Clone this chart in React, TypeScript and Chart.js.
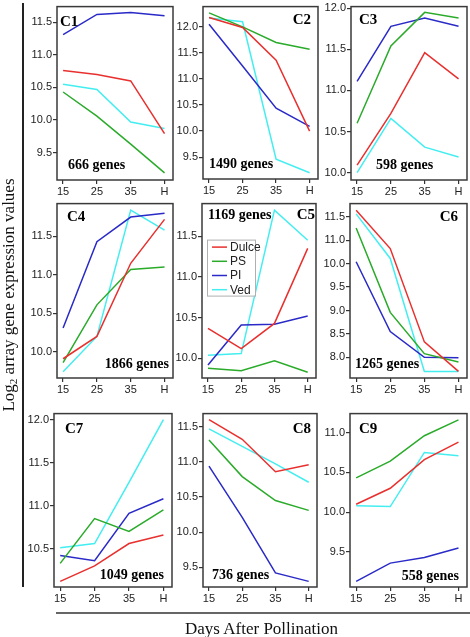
import React, { useEffect, useRef } from 'react';
import { Chart, registerables } from 'chart.js';
Chart.register(...registerables);

// ---------- data ----------
const days = ['15', '25', '35', 'H'];
const seriesNames = ['Dulce', 'PS', 'PI', 'Ved'];
const seriesColors = ['#e8302e', '#2aab2a', '#2a2ac8', '#44eef0'];
const clusterNames = ['C1', 'C2', 'C3', 'C4', 'C5', 'C6', 'C7', 'C8', 'C9'];
const geneCounts = ['666 genes', '1490 genes', '598 genes', '1866 genes', '1169 genes', '1265 genes', '1049 genes', '736 genes', '558 genes'];

// each cluster: [Dulce, PS, PI, Ved] over days 15, 25, 35, H
const c1 = [
  [10.76, 10.70, 10.60, 9.79],
  [10.43, 10.06, 9.63, 9.19],
  [11.31, 11.62, 11.65, 11.60],
  [10.55, 10.47, 9.97, 9.87],
];
const c2 = [
  [12.18, 11.99, 11.36, 10.0],
  [12.27, 12.0, 11.70, 11.57],
  [12.05, 11.25, 10.44, 10.09],
  [12.17, 12.10, 9.46, 9.20],
];
const c3 = [
  [10.09, 10.72, 11.46, 11.14],
  [10.60, 11.54, 11.95, 11.88],
  [11.11, 11.78, 11.88, 11.78],
  [10.0, 10.66, 10.31, 10.19],
];
const c4 = [
  [9.91, 10.20, 11.15, 11.72],
  [9.86, 10.61, 11.07, 11.10],
  [10.31, 11.43, 11.75, 11.80],
  [9.74, 10.20, 11.84, 11.58],
];
const c5 = [
  [10.37, 10.12, 10.43, 11.35],
  [9.88, 9.85, 9.97, 9.83],
  [9.92, 10.41, 10.42, 10.52],
  [10.04, 10.06, 11.82, 11.45],
];
const c6 = [
  [11.14, 10.32, 8.33, 7.70],
  [10.76, 8.96, 8.08, 7.90],
  [10.04, 8.55, 8.00, 7.99],
  [11.06, 10.11, 7.70, 7.70],
];
const c7 = [
  [10.12, 10.30, 10.56, 10.66],
  [10.33, 10.85, 10.70, 10.95],
  [10.42, 10.36, 10.91, 11.08],
  [10.51, 10.56, 11.27, 12.0],
];
const c8 = [
  [11.60, 11.32, 10.86, 10.96],
  [11.31, 10.79, 10.45, 10.31],
  [10.94, 10.21, 9.42, 9.30],
  [11.47, 11.22, 10.97, 10.71],
];
const c9 = [
  [10.10, 10.30, 10.66, 10.88],
  [10.43, 10.64, 10.96, 11.16],
  [9.13, 9.36, 9.43, 9.55],
  [10.08, 10.07, 10.75, 10.71],
];

const c1Ticks = [9.5, 10.0, 10.5, 11.0, 11.5];
const c2Ticks = [9.5, 10.0, 10.5, 11.0, 11.5, 12.0];
const c3Ticks = [10.0, 10.5, 11.0, 11.5, 12.0];
const c4Ticks = [10.0, 10.5, 11.0, 11.5];
const c5Ticks = [10.0, 10.5, 11.0, 11.5];
const c6Ticks = [8.0, 8.5, 9.0, 9.5, 10.0, 10.5, 11.0];
const c6TickLabels = ['8.0', '8.5', '9.0', '9.5', '10.0', '11.0', '11.5'];
const c7Ticks = [10.5, 11.0, 11.5, 12.0];
const c8Ticks = [9.5, 10.0, 10.5, 11.0, 11.5];
const c9Ticks = [9.5, 10.0, 10.5, 11.0];

// ---------- layout / style ----------
type Lab = { side: 'left' | 'right'; dx: number; top: boolean; dy: number };
type PanelCfg = {
  values: number[][];
  ticks: number[];
  tickLabels?: string[];
  yMin: number;
  yMax: number;
  box: [number, number, number, number];
  name: Lab;
  genes: Lab;
  legend?: { dx: number; dy: number; w: number; h: number };
};

const panels: PanelCfg[] = [
  { values: c1, ticks: c1Ticks, yMin: 9.08, yMax: 11.74, box: [57, 3, 173, 180],
    name: { side: 'left', dx: 3, top: true, dy: 19 }, genes: { side: 'left', dx: 11, top: false, dy: 11 } },
  { values: c2, ticks: c2Ticks, yMin: 9.08, yMax: 12.39, box: [203, 3, 318, 179],
    name: { side: 'right', dx: 7, top: true, dy: 17 }, genes: { side: 'left', dx: 6, top: false, dy: 11 } },
  { values: c3, ticks: c3Ticks, yMin: 9.91, yMax: 12.02, box: [351, 3, 467, 180],
    name: { side: 'left', dx: 8, top: true, dy: 17 }, genes: { side: 'left', dx: 25, top: false, dy: 11 } },
  { values: c4, ticks: c4Ticks, yMin: 9.66, yMax: 11.925, box: [57, 200, 173, 378],
    name: { side: 'left', dx: 10, top: true, dy: 17 }, genes: { side: 'right', dx: 4, top: false, dy: 10 } },
  { values: c5, ticks: c5Ticks, yMin: 9.76, yMax: 11.90, box: [202, 200, 316, 378],
    name: { side: 'right', dx: 1, top: true, dy: 15 }, genes: { side: 'left', dx: 6, top: true, dy: 15 },
    legend: { dx: 5, dy: 36, w: 48, h: 56 } },
  { values: c6, ticks: c6Ticks, tickLabels: c6TickLabels, yMin: 7.56, yMax: 11.28, box: [350, 200, 467, 378],
    name: { side: 'right', dx: 9, top: true, dy: 17 }, genes: { side: 'left', dx: 5, top: false, dy: 10 } },
  { values: c7, ticks: c7Ticks, yMin: 10.055, yMax: 12.07, box: [54, 410, 172, 587],
    name: { side: 'left', dx: 11, top: true, dy: 19 }, genes: { side: 'right', dx: 8, top: false, dy: 8 } },
  { values: c8, ticks: c8Ticks, yMin: 9.22, yMax: 11.686, box: [203, 410, 317, 587],
    name: { side: 'right', dx: 6, top: true, dy: 19 }, genes: { side: 'left', dx: 9, top: false, dy: 8 } },
  { values: c9, ticks: c9Ticks, yMin: 9.06, yMax: 11.238, box: [350, 410, 467, 587],
    name: { side: 'left', dx: 9, top: true, dy: 19 }, genes: { side: 'right', dx: 8, top: false, dy: 7 } },
];

const M_LEFT = 40, M_TOP = 4, M_RIGHT = 4, M_BOTTOM = 22;
const SANS = '"Liberation Sans Narrow", "Arial Narrow", "Liberation Sans", Arial, sans-serif';
const SERIF = '"Liberation Serif", "Times New Roman", serif';
const tickFont = { family: SANS, size: 11 };

function Panel({ cfg, index }: { cfg: PanelCfg; index: number }) {
  const ref = useRef<HTMLCanvasElement | null>(null);
  const [l, t, r, b] = cfg.box;
  const width = r - l + M_LEFT + M_RIGHT;
  const height = b - t + M_TOP + M_BOTTOM;

  useEffect(() => {
    if (!ref.current) return;
    const decor = {
      id: 'decor' + index,
      afterDatasetsDraw(chart: any) {
        const { ctx, chartArea: a } = chart;
        ctx.save();
        ctx.strokeStyle = '#3a3a3a';
        ctx.lineWidth = 1.5;
        ctx.strokeRect(a.left, a.top, a.right - a.left, a.bottom - a.top);
        const drawLab = (text: string, lab: Lab, font: string) => {
          ctx.font = font;
          ctx.fillStyle = '#000';
          ctx.textBaseline = 'alphabetic';
          ctx.textAlign = lab.side;
          const x = lab.side === 'left' ? a.left + lab.dx : a.right - lab.dx;
          const y = lab.top ? a.top + lab.dy : a.bottom - lab.dy;
          ctx.fillText(text, x, y);
        };
        drawLab(clusterNames[index], cfg.name, `bold 15px ${SERIF}`);
        drawLab(geneCounts[index], cfg.genes, `bold 14px ${SERIF}`);
        if (cfg.legend) {
          const lg = cfg.legend;
          const x0 = a.left + lg.dx, y0 = a.top + lg.dy;
          ctx.fillStyle = '#fff';
          ctx.fillRect(x0, y0, lg.w, lg.h);
          ctx.strokeStyle = '#b0b0b0';
          ctx.lineWidth = 1;
          ctx.strokeRect(x0 + 0.5, y0 + 0.5, lg.w, lg.h);
          ctx.font = `12px ${SANS}`;
          ctx.textAlign = 'left';
          ctx.textBaseline = 'middle';
          chart.data.datasets.forEach((ds: any, i: number) => {
            const yy = y0 + 7.5 + i * 14.2;
            ctx.strokeStyle = ds.borderColor;
            ctx.lineWidth = 1.5;
            ctx.beginPath();
            ctx.moveTo(x0 + 5, yy);
            ctx.lineTo(x0 + 20, yy);
            ctx.stroke();
            ctx.fillStyle = '#222';
            ctx.fillText(ds.label, x0 + 23, yy + 0.5);
          });
        }
        ctx.restore();
      },
    };

    const chart = new Chart(ref.current, {
      type: 'line',
      data: {
        datasets: cfg.values.map((vals, si) => ({
          label: seriesNames[si],
          data: vals.map((v, di) => ({ x: di, y: v })),
          borderColor: seriesColors[si],
          backgroundColor: seriesColors[si],
          borderWidth: 1.5,
          pointRadius: 0,
          tension: 0,
          fill: false,
        })),
      },
      options: {
        animation: false,
        responsive: false,
        devicePixelRatio: 1,
        events: [],
        layout: { padding: { left: 0, top: M_TOP, right: M_RIGHT, bottom: 0 } },
        plugins: { legend: { display: false }, tooltip: { enabled: false } },
        scales: {
          x: {
            type: 'linear',
            min: -0.18,
            max: 3.25,
            afterBuildTicks: (s: any) => { s.ticks = days.map((_, i) => ({ value: i })); },
            afterFit: (s: any) => { s.height = M_BOTTOM; },
            ticks: {
              callback: (v: any) => days[Math.round(Number(v))] ?? '',
              font: tickFont,
              color: '#222',
              padding: 1,
              maxRotation: 0,
              autoSkip: false,
            },
            grid: { drawOnChartArea: false, drawTicks: true, tickLength: 4, color: '#333', lineWidth: 1.2 },
            border: { display: false },
          },
          y: {
            type: 'linear',
            min: cfg.yMin,
            max: cfg.yMax,
            afterBuildTicks: (s: any) => { s.ticks = cfg.ticks.map((v) => ({ value: v })); },
            afterFit: (s: any) => { s.width = M_LEFT; },
            ticks: {
              callback: (v: any, i: number) => (cfg.tickLabels ? cfg.tickLabels[i] : Number(v).toFixed(1)),
              font: tickFont,
              color: '#222',
              padding: 1,
              autoSkip: false,
            },
            grid: { drawOnChartArea: false, drawTicks: true, tickLength: 4, color: '#333', lineWidth: 1.2 },
            border: { display: false },
          },
        },
      },
      plugins: [decor],
    } as any);
    return () => chart.destroy();
  }, [cfg, index]);

  return (
    <canvas
      ref={ref}
      width={width}
      height={height}
      style={{ position: 'absolute', left: l - M_LEFT, top: t - M_TOP, width, height }}
    />
  );
}

export default function App() {
  return (
    <div style={{ position: 'absolute', left: 0, top: 0, width: 470, height: 637, background: '#fff', overflow: 'hidden' }}>
      {panels.map((p, i) => (
        <Panel key={i} cfg={p} index={i} />
      ))}
      <div style={{ position: 'absolute', left: 22, top: 3, width: 1.5, height: 584, background: '#222' }} />
      <div style={{ position: 'absolute', left: 56, top: 612, width: 414, height: 2, background: '#666' }} />
      <div
        style={{
          position: 'absolute', left: 7.6, top: 295, transform: 'translate(-50%, -50%) rotate(-90deg)',
          fontFamily: SERIF, fontSize: 17, lineHeight: '17px', whiteSpace: 'nowrap', color: '#111',
        }}
      >
        Log<sub style={{ fontSize: 11, verticalAlign: '-3px', lineHeight: 0 }}>2</sub> array gene expression values
      </div>
      <div
        style={{
          position: 'absolute', left: 261.5, top: 620, transform: 'translateX(-50%)',
          fontFamily: SERIF, fontSize: 17, lineHeight: '17px', whiteSpace: 'nowrap', color: '#111',
        }}
      >
        Days After Pollination
      </div>
    </div>
  );
}
